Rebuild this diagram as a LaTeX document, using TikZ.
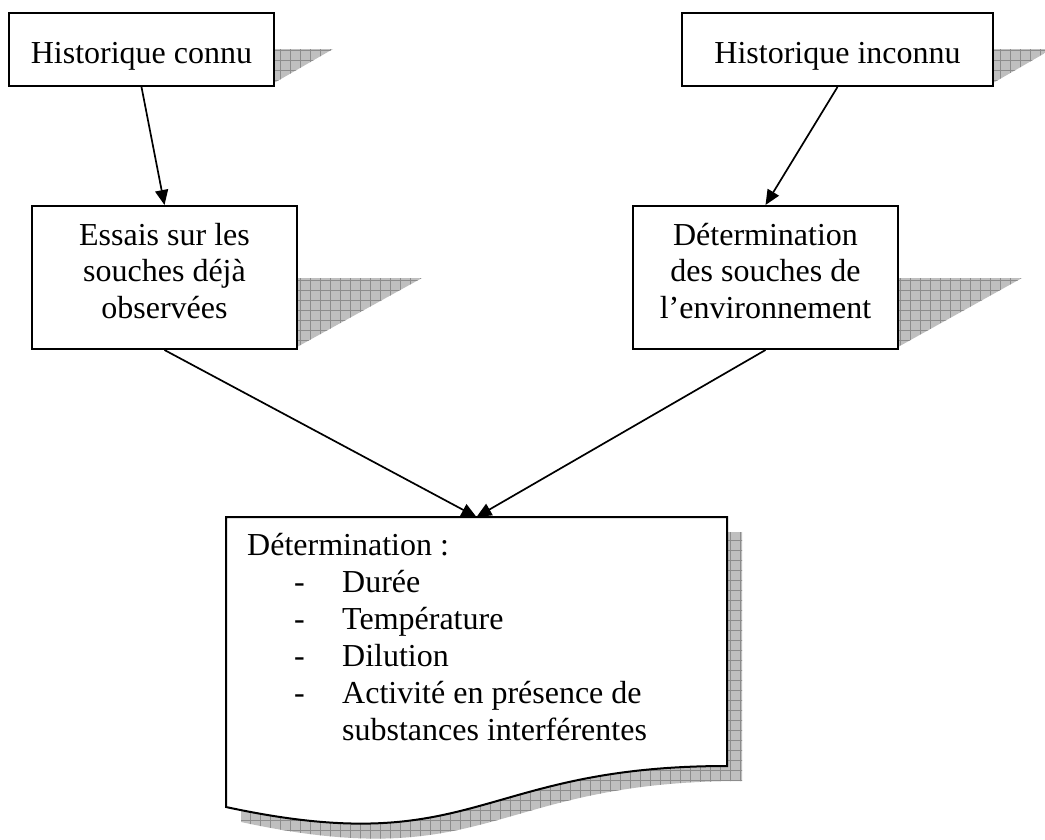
\documentclass[tikz,border=0pt]{standalone}
\usepackage{fontspec}
\setmainfont{Liberation Serif}
\usetikzlibrary{arrows.meta}
\begin{document}
\begin{tikzpicture}[x=1pt,y=-1pt,
  box/.style={draw=black,line width=2pt,fill=white,inner sep=0pt},
  txt/.style={inner sep=0pt,font=\fontsize{32}{36.5}\selectfont},
  arr/.style={draw=black,line width=1.7pt,-{Triangle[length=15pt,width=13pt]}},
  shadowfill/.style={fill=gray!50},
  shadowgrid/.style={draw=gray!90,line width=0.5pt}]
\useasboundingbox (0,0) rectangle (1045,839);

% shadows
\begin{scope}
  \clip (274,49) -- (333,49) -- (274,83) -- cycle
        (993,49) -- (1052,49) -- (993,83) -- cycle
        (297,278) -- (422,278) -- (297,347) -- cycle
        (898,278) -- (1022,278) -- (898,347) -- cycle
        (241,532) -- (742,532) -- (742,781) .. controls (491.5,781) and (491.5,876) .. (241,822) -- cycle;
  \fill[shadowfill] (0,0) rectangle (1045,839);
  \foreach \i in {0,10,...,1050} \draw[shadowgrid] (\i,0) -- (\i,839);
  \foreach \j in {0,10,...,840} \draw[shadowgrid] (0,\j) -- (1045,\j);
\end{scope}

% boxes
\node[box,minimum width=265pt,minimum height=73pt] (b1) at (141.5,49.5) {};
\node[box,minimum width=311pt,minimum height=73pt] (b2) at (837.5,49.5) {};
\node[box,minimum width=265pt,minimum height=143pt] (b3) at (164.5,277.5) {};
\node[box,minimum width=265pt,minimum height=143pt] (b4) at (765.5,277.5) {};
\draw[box] (226,517) -- (727,517) -- (727,766) .. controls (476.5,766) and (476.5,861) .. (226,807) -- cycle;
\coordinate (b5) at (476.5,517);

% texts
\node[txt,anchor=base] (t1) at (141.5,63) {Historique connu};
\node[txt,anchor=base] (t2) at (837.5,63) {Historique inconnu};
\node[txt,anchor=base] (t3a) at (164.5,245) {Essais sur les};
\node[txt,anchor=base] (t3b) at (164.5,281.5) {souches déjà};
\node[txt,anchor=base] (t3c) at (164.5,318) {observées};
\node[txt,anchor=base] (t4a) at (765.5,245) {Détermination};
\node[txt,anchor=base] (t4b) at (765.5,281.5) {des souches de};
\node[txt,anchor=base] (t4c) at (765.5,318) {l’environnement};

\node[txt,anchor=base west] (t5) at (247,555) {Détermination :};
\node[txt,anchor=base west] (d1) at (294,592) {-};
\node[txt,anchor=base west] (d2) at (294,629) {-};
\node[txt,anchor=base west] (d3) at (294,666) {-};
\node[txt,anchor=base west] (d4) at (294,703) {-};
\node[txt,anchor=base west] (i1) at (342,592) {Durée};
\node[txt,anchor=base west] (i2) at (342,629) {Température};
\node[txt,anchor=base west] (i3) at (342,666) {Dilution};
\node[txt,anchor=base west] (i4) at (342,703) {Activité en présence de};
\node[txt,anchor=base west] (i5) at (342,740) {substances interférentes};

% connectors
\draw[arr] (b1.south) -- (b3.north);
\draw[arr] (b2.south) -- (b4.north);
\draw[arr] (b3.south) -- (b5);
\draw[arr] (b4.south) -- (b5);
\end{tikzpicture}
\end{document}
